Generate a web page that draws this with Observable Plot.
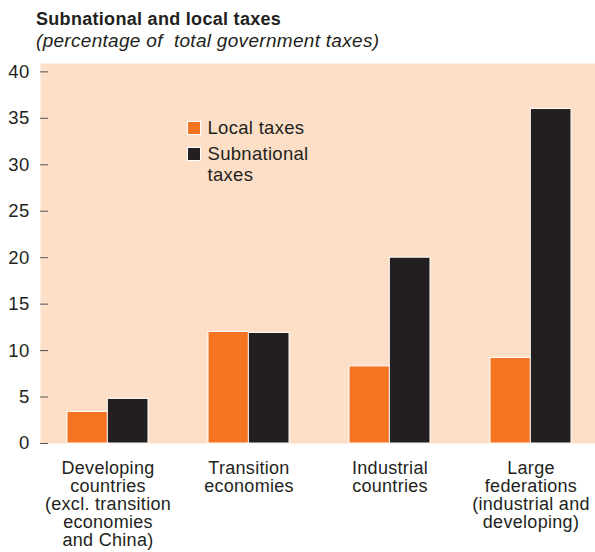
<!DOCTYPE html>
<html>
<head>
<meta charset="utf-8">
<script src="https://cdn.jsdelivr.net/npm/d3@7"></script>
<script src="https://cdn.jsdelivr.net/npm/@observablehq/plot@0.6"></script>
<style>
  html, body { margin: 0; padding: 0; background: #ffffff; }
  #wrap { position: relative; width: 595px; height: 552px; overflow: hidden;
          font-family: "Liberation Sans", Arial, sans-serif; color: #231f20; letter-spacing: 0.3px; }
  #title { position: absolute; left: 36px; top: 9.4px; font-size: 18px; font-weight: bold; line-height: normal; white-space: pre; }
  #subtitle { position: absolute; left: 36px; top: 29.5px; font-size: 19px; font-style: italic; line-height: normal; white-space: pre; }
  #chart { position: absolute; left: 0; top: 55px; }
  #legend { position: absolute; left: 186.5px; top: 117px; font-size: 18.5px; }
  .item { position: relative; padding-left: 21px; line-height: 21.7px; margin-bottom: 4px; }
  .sw { position: absolute; left: 0; top: 4px; width: 12px; height: 12px; border: 1px solid #ffffff; }
</style>
</head>
<body>
<div id="wrap">
  <div id="title"></div>
  <div id="subtitle"></div>
  <div id="chart"></div>
  <div id="legend"></div>
</div>
<script>
// ---- data ----
const titleText = "Subnational and local taxes";
const subtitleText = "(percentage of  total government taxes)";
const categories = ["Developing", "Transition", "Industrial", "Large federations"];
const categoryLabels = [
  "Developing\ncountries\n(excl. transition\neconomies\nand China)",
  "Transition\neconomies",
  "Industrial\ncountries",
  "Large\nfederations\n(industrial and\ndeveloping)"
];
const localTaxes = [3.4, 12.0, 8.3, 9.2];
const subnationalTaxes = [4.8, 11.9, 20.0, 36.0];
const seriesNames = ["Local taxes", "Subnational\ntaxes"];
const seriesColors = ["#f47421", "#231f20"];
const yTicks = [0, 5, 10, 15, 20, 25, 30, 35, 40];

// ---- build ----
document.getElementById("title").textContent = titleText;
document.getElementById("subtitle").textContent = subtitleText;

const localData = categories.map((c, i) => ({category: c, value: localTaxes[i]}));
const subData = categories.map((c, i) => ({category: c, value: subnationalTaxes[i]}));
const labelOf = new Map(categories.map((c, i) => [c, categoryLabels[i]]));

const width = 595, height = 497, marginLeft = 40, marginRight = 0;
const paddingInner = 0.429, paddingOuter = 0.18;
const step = (width - marginLeft - marginRight) / (categories.length - paddingInner + 2 * paddingOuter);
const half = step * (1 - paddingInner) / 2;

const chart = Plot.plot({
  width, height,
  marginLeft, marginRight, marginTop: 8, marginBottom: 109,
  style: {fontFamily: "'Liberation Sans', Arial, sans-serif", fontSize: "18.5px", letterSpacing: "0.3px", color: "#231f20", background: "transparent", overflow: "visible"},
  x: {type: "band", domain: categories, paddingInner, paddingOuter, align: 0.52, label: null},
  y: {domain: [0, 40.9], label: null},
  marks: [
    Plot.frame({fill: "#fcdfc6", stroke: "none"}),
    Plot.barY(localData, {x: "category", y: "value", fill: seriesColors[0], stroke: "#ffffff", strokeWidth: 1, insetRight: half}),
    Plot.barY(subData, {x: "category", y: "value", fill: seriesColors[1], stroke: "#ffffff", strokeWidth: 1, insetLeft: half}),
    Plot.axisY(yTicks, {tickSize: 8, dx: 8, tickFormat: () => "", stroke: "#555555", label: null}),
    Plot.axisY(yTicks, {tickSize: 0, tickPadding: 11, fill: "#231f20", label: null}),
    Plot.axisX({tickSize: 0, tickPadding: 18, tickFormat: d => labelOf.get(d), fontSize: 18, lineHeight: 1, fill: "#231f20", label: null})
  ]
});
document.getElementById("chart").appendChild(chart);

// ---- legend ----
const legend = document.getElementById("legend");
seriesNames.forEach((name, i) => {
  const item = document.createElement("div");
  item.className = "item";
  const sw = document.createElement("span");
  sw.className = "sw";
  sw.style.background = seriesColors[i];
  item.appendChild(sw);
  name.split("\n").forEach((line, j) => {
    if (j > 0) item.appendChild(document.createElement("br"));
    item.appendChild(document.createTextNode(line));
  });
  legend.appendChild(item);
});
</script>
</body>
</html>
